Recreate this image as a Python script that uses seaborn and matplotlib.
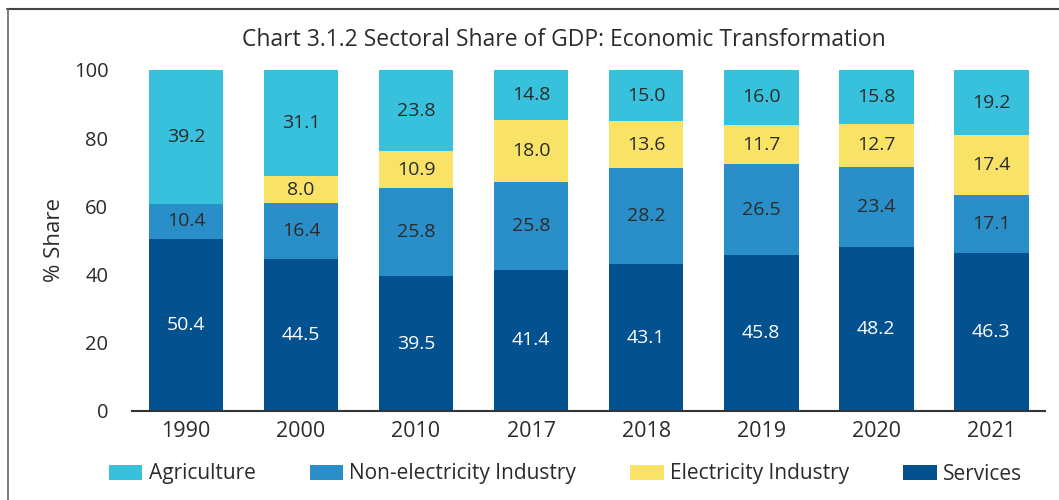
import matplotlib

matplotlib.use("Agg")
import matplotlib.pyplot as plt
from matplotlib.lines import Line2D
from matplotlib.patches import Patch
import numpy as np
import pandas as pd
import seaborn as sns

years = ["1990", "2000", "2010", "2017", "2018", "2019", "2020", "2021"]
services = [50.4, 44.5, 39.5, 41.4, 43.1, 45.8, 48.2, 46.3]
non_elec = [10.4, 16.4, 25.8, 25.8, 28.2, 26.5, 23.4, 17.1]
electricity = [0.0, 8.0, 10.9, 18.0, 13.6, 11.7, 12.7, 17.4]
agriculture = [39.2, 31.1, 23.8, 14.8, 15.0, 16.0, 15.8, 19.2]

# bottom -> top stacking order
series = [
    ("Services", services, "#045190", "white"),
    ("Non-electricity Industry", non_elec, "#2A8FC9", "#2b2b2b"),
    ("Electricity Industry", electricity, "#F8E367", "#2b2b2b"),
    ("Agriculture", agriculture, "#38C1DD", "#2b2b2b"),
]

sns.set_style("white")
plt.rcParams["font.family"] = ["Open Sans", "DejaVu Sans"]

fig = plt.figure(figsize=(10.59, 5.0), dpi=100)
ax = fig.add_axes([0.1246, 0.178, 0.8624, 0.682])

df = pd.DataFrame({"year": years})
bottoms = np.zeros(len(years))
tops = []
for name, vals, color, _ in series:
    bottoms = bottoms + np.array(vals)
    tops.append(bottoms.copy())

# draw cumulative totals from the top layer down so each layer shows
for (name, vals, color, _), top in reversed(list(zip(series, tops))):
    df["v"] = top
    sns.barplot(data=df, x="year", y="v", color=color, width=0.65,
                saturation=1, ax=ax, linewidth=0)

base = np.zeros(len(years))
for name, vals, color, tcol in series:
    for i, v in enumerate(vals):
        if v > 0:
            ax.text(i, base[i] + v / 2, f"{v:.1f}", ha="center", va="center",
                    fontsize=14, color=tcol)
    base = base + np.array(vals)

ax.set_ylim(0, 100)
ax.set_xlim(-0.47, 7.47)
ax.set_yticks([0, 20, 40, 60, 80, 100])
ax.tick_params(axis="y", labelsize=14.5, colors="#2b2b2b", pad=17, length=0)
ax.tick_params(axis="x", labelsize=15.5, colors="#2b2b2b", pad=7, length=0)
ax.set_xlabel("")
ax.set_ylabel("% Share", fontsize=16, color="#2b2b2b", labelpad=6)
for s in ["top", "right", "left"]:
    ax.spines[s].set_visible(False)
ax.spines["bottom"].set_color("#333333")
ax.spines["bottom"].set_linewidth(1.5)

fig.text(0.532, 0.92, "Chart 3.1.2 Sectoral Share of GDP: Economic Transformation",
         ha="center", va="center", fontsize=16.5, color="#2b2b2b")

handles = [Patch(facecolor=c, edgecolor="none", label=n)
           for n, _, c, _ in [series[3], series[1], series[2], series[0]]]
fig.legend(handles=handles, loc="center", bbox_to_anchor=(0.534, 0.052),
           ncol=4, frameon=False, fontsize=15, handlelength=1.6,
           handleheight=0.7, handletextpad=0.3, columnspacing=2.6,
           labelcolor="#2b2b2b")

# page frame
fig.add_artist(Line2D([0.0066, 1.0], [0.982, 0.982], transform=fig.transFigure,
                      color="#444444", lw=1.5))
fig.add_artist(Line2D([0.0075, 0.0075], [0.0, 0.982], transform=fig.transFigure,
                      color="#666666", lw=1.2))

fig.savefig("out.png", dpi=100)
